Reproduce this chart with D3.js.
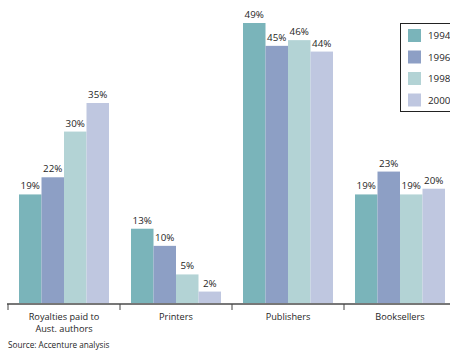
<!DOCTYPE html>
<html>
<head>
<meta charset="utf-8">
<script src="https://cdn.jsdelivr.net/npm/d3@7"></script>
<style>
  body { margin: 0; background: #fff; }
  text { font-family: "Open Sans", "Noto Sans", sans-serif; fill: #262626; }
</style>
</head>
<body>
<script>
// chart data
const categories = ["Royalties paid to\nAust. authors", "Printers", "Publishers", "Booksellers"];
const years = ["1994", "1996", "1998", "2000"];
const values = [
  [19, 22, 30, 35],
  [13, 10, 5, 2],
  [49, 45, 46, 44],
  [19, 23, 19, 20]
];
const colors = ["#7ab4ba", "#8d9fc5", "#b3d3d5", "#bfc7e0"];
const source = "Source: Accenture analysis";

const width = 450, height = 352;
const baseY = 303;

let svg = d3.select("body")
  .append("svg")
  .attr("width", width)
  .attr("height", height);

// scales
let x0 = d3.scaleBand()
  .domain(categories)
  .range([8, 456]);

let x1 = d3.scaleBand()
  .domain(years)
  .range([11, 101]);

let y = d3.scaleLinear()
  .domain([0, 49])
  .range([baseY, 23]);

let color = d3.scaleOrdinal()
  .domain(years)
  .range(colors);

// bars
let groups = svg.selectAll("g.cat")
  .data(categories)
  .enter()
  .append("g")
  .attr("class", "cat")
  .attr("transform", d => `translate(${x0(d)},0)`);

groups.selectAll("rect")
  .data((d, i) => years.map((yr, j) => ({ year: yr, v: values[i][j] })))
  .enter()
  .append("rect")
  .attr("x", d => x1(d.year))
  .attr("width", x1.bandwidth())
  .attr("y", d => y(d.v))
  .attr("height", d => baseY - y(d.v))
  .attr("fill", d => color(d.year));

groups.selectAll("text.val")
  .data((d, i) => years.map((yr, j) => ({ year: yr, v: values[i][j] })))
  .enter()
  .append("text")
  .attr("class", "val")
  .attr("x", d => x1(d.year) + x1.bandwidth() / 2)
  .attr("y", d => y(d.v) - 5)
  .attr("text-anchor", "middle")
  .style("font-size", "9.8px")
  .text(d => d.v + "%");

// axis line and boundary ticks
svg.append("line")
  .attr("x1", 7).attr("x2", width)
  .attr("y1", baseY + 1).attr("y2", baseY + 1)
  .attr("stroke", "#777")
  .attr("stroke-width", 2);

svg.selectAll("line.tick")
  .data(categories)
  .enter()
  .append("line")
  .attr("class", "tick")
  .attr("x1", d => x0(d)).attr("x2", d => x0(d))
  .attr("y1", baseY + 1).attr("y2", baseY + 7)
  .attr("stroke", "#444")
  .attr("stroke-width", 1);

// category labels, one text per line
categories.forEach(c => {
  c.split("\n").forEach((line, i) => {
    svg.append("text")
      .attr("x", x0(c) + x1(years[0]) + 45)
      .attr("y", 320 + i * 11.5)
      .attr("text-anchor", "middle")
      .style("font-size", "9.2px")
      .text(line);
  });
});

svg.append("text")
  .attr("x", 8)
  .attr("y", 348)
  .style("font-size", "8.2px")
  .text(source);

// legend
let legend = svg.append("g");
legend.append("rect")
  .attr("x", 400.5).attr("y", 23.5)
  .attr("width", 60).attr("height", 88)
  .attr("fill", "#fff")
  .attr("stroke", "#222");

let items = legend.selectAll("g.item")
  .data(years)
  .enter()
  .append("g")
  .attr("class", "item")
  .attr("transform", (d, i) => `translate(408,${29 + i * 21.5})`);

items.append("rect")
  .attr("width", 13).attr("height", 13)
  .attr("fill", d => color(d));

items.append("text")
  .attr("x", 20)
  .attr("y", 10)
  .style("font-size", "9.8px")
  .text(d => d);
</script>
</body>
</html>
